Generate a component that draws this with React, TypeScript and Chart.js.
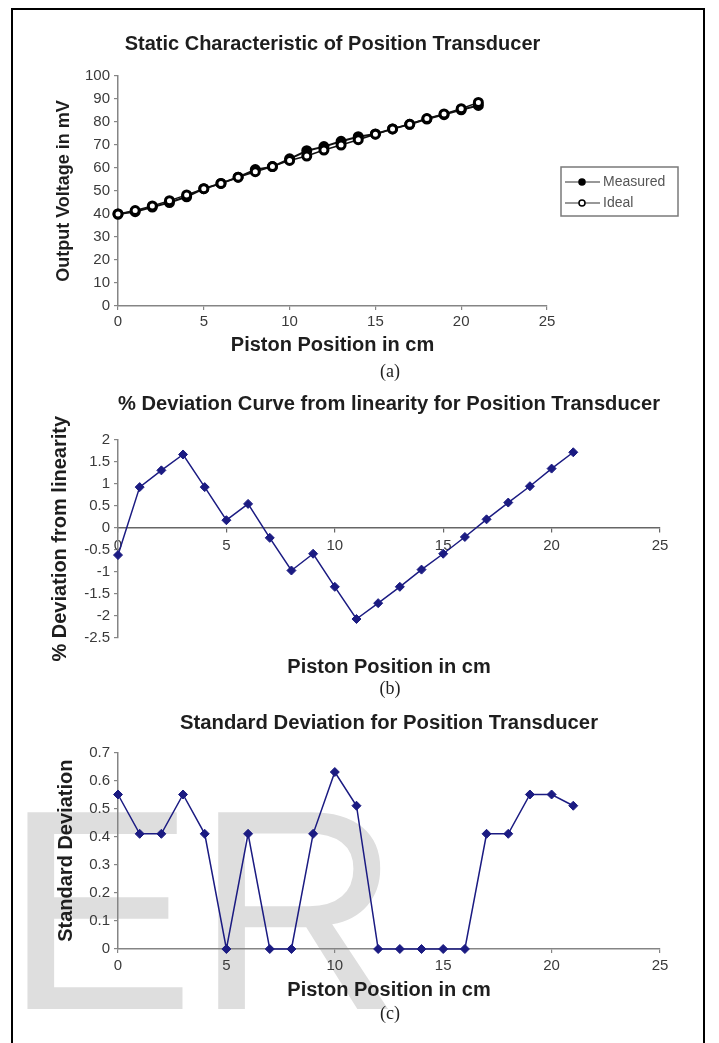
import React, { useEffect, useRef } from "react";
import { Chart, registerables } from "chart.js";

Chart.register(...registerables);

// ---------- data ----------
const positionsCm = [0, 1, 2, 3, 4, 5, 6, 7, 8, 9, 10, 11, 12, 13, 14, 15, 16, 17, 18, 19, 20, 21];
const measuredMv = [40, 41, 43, 45, 47.5, 51, 53.3, 56, 59.3, 60.6, 64, 67.5, 69.3, 71.6, 73.6, 74.8, 77, 79, 81.3, 83.2, 85.3, 87.2];
const idealMv = [40, 41.5, 43.5, 45.8, 48.3, 51, 53.3, 56, 58.4, 60.6, 63.3, 65.2, 67.8, 70, 72.3, 74.7, 77, 79, 81.5, 83.5, 85.8, 88.5];
const deviationPct = [-0.62, 0.92, 1.3, 1.66, 0.92, 0.17, 0.54, -0.23, -0.97, -0.59, -1.34, -2.07, -1.71, -1.34, -0.95, -0.59, -0.21, 0.19, 0.57, 0.94, 1.34, 1.71];
const stdDeviation = [0.55, 0.41, 0.41, 0.55, 0.41, 0, 0.41, 0, 0, 0.41, 0.63, 0.51, 0, 0, 0, 0, 0, 0.41, 0.41, 0.55, 0.55, 0.51];

const seriesLabels = ["Measured", "Ideal"];
const titles = [
  "Static Characteristic of Position Transducer",
  "% Deviation Curve from linearity for Position Transducer",
  "Standard Deviation for Position Transducer",
];
const xAxisTitle = "Piston Position in cm";
const yAxisTitles = ["Output Voltage in mV", "% Deviation from linearity", "Standard Deviation"];
const captions = ["(a)", "(b)", "(c)"];
const xRange = [0, 25, 5];
const yRangeA = [0, 100, 10];
const yRangeB = [-2.5, 2, 0.5];
const yRangeC = [0, 0.7, 0.1];

const toPoints = (ys: number[]) => positionsCm.map((x, i) => ({ x, y: ys[i] }));

const FONT = "'Liberation Sans', Arial, sans-serif";
const AXIS_GRAY = "#858585";
const TICK_COLOR = "#3a3a3a";
const NAVY = "#1b1b82";

Chart.defaults.font.family = FONT;

// legend with line + marker samples, drawn in a box
const boxLegend = {
  id: "boxLegend",
  afterDraw(chart: any, _args: any, opts: any) {
    if (!opts || !opts.display) return;
    const { ctx } = chart;
    ctx.save();
    ctx.strokeStyle = "#7a7a7a";
    ctx.lineWidth = 1.5;
    ctx.strokeRect(opts.x, opts.y, opts.w, opts.h);
    ctx.font = `14px ${FONT}`;
    ctx.textBaseline = "middle";
    ctx.textAlign = "left";
    chart.data.datasets.forEach((ds: any, i: number) => {
      const cy = opts.y + opts.first + i * opts.gap;
      ctx.strokeStyle = "#333";
      ctx.lineWidth = 1.2;
      ctx.beginPath();
      ctx.moveTo(opts.x + 4, cy);
      ctx.lineTo(opts.x + 39, cy);
      ctx.stroke();
      ctx.beginPath();
      ctx.arc(opts.x + 21, cy, 3, 0, Math.PI * 2);
      ctx.fillStyle = ds.pointBackgroundColor;
      ctx.fill();
      ctx.lineWidth = 1.5;
      ctx.strokeStyle = "#000";
      ctx.stroke();
      ctx.fillStyle = "#555";
      ctx.fillText(ds.label, opts.x + 42, cy);
    });
    ctx.restore();
  },
};

const tickFont = { size: 15, family: FONT };
const titleFont = (size: number) => ({ size, weight: "bold" as const, family: FONT });
const plainNumber = (v: any) => String(Math.round(Number(v) * 100) / 100);

function yAxis(range: number[], title: string, titleSize: number, titlePadTop: number) {
  return {
    type: "linear",
    min: range[0],
    max: range[1],
    ticks: { stepSize: range[2], font: tickFont, color: TICK_COLOR, padding: 4, callback: plainNumber },
    grid: { drawOnChartArea: false, drawTicks: true, tickLength: 4, color: AXIS_GRAY, lineWidth: 1.2 },
    border: { display: true, color: AXIS_GRAY, width: 1.5 },
    title: { display: true, text: title, font: titleFont(titleSize), color: "#1e1e1e", padding: { top: titlePadTop, bottom: 0 } },
    afterFit: (s: any) => {
      s.width = 118;
    },
  };
}

function xAxis(height: number, tickPad: number, titlePadBottom: number, showTicks: boolean) {
  return {
    type: "linear",
    min: xRange[0],
    max: xRange[1],
    ticks: { display: showTicks, stepSize: xRange[2], font: tickFont, color: TICK_COLOR, padding: tickPad, callback: plainNumber },
    grid: { display: showTicks, drawOnChartArea: false, drawTicks: true, tickLength: 4, color: AXIS_GRAY, lineWidth: 1.2 },
    border: { display: showTicks, color: AXIS_GRAY, width: 1.5 },
    title: { display: true, text: xAxisTitle, font: titleFont(20), color: "#1e1e1e", padding: { top: 0, bottom: titlePadBottom } },
    afterFit: (s: any) => {
      s.height = height;
    },
  };
}

function chartTitle(text: string, top: number, bottom: number, size: number) {
  return {
    display: true,
    text,
    fullSize: false,
    font: titleFont(size),
    color: "#1e1e1e",
    padding: { top, bottom },
  };
}

function configA(): any {
  return {
    type: "line",
    data: {
      datasets: [
        {
          label: seriesLabels[0],
          data: toPoints(measuredMv),
          borderColor: "#111",
          borderWidth: 2,
          pointRadius: 4.5,
          pointBorderWidth: 2,
          pointBackgroundColor: "#000",
          pointBorderColor: "#000",
          clip: false,
          order: 1,
        },
        {
          label: seriesLabels[1],
          data: toPoints(idealMv),
          borderColor: "#111",
          borderWidth: 1.5,
          pointRadius: 4,
          pointBorderWidth: 3,
          pointBackgroundColor: "#fff",
          pointBorderColor: "#000",
          clip: false,
          order: 0,
        },
      ],
    },
    options: {
      responsive: false,
      animation: false,
      events: [],
      layout: { padding: { left: 0, right: 172, top: 0, bottom: 0 } },
      plugins: {
        legend: { display: false },
        tooltip: { enabled: false },
        title: chartTitle(titles[0], 32, 20, 20),
        boxLegend: { display: true, x: 561, y: 167, w: 117, h: 49, first: 15, gap: 21 },
      },
      scales: {
        x: xAxis(56, 3, 5, true),
        y: yAxis(yRangeA, yAxisTitles[0], 18, 53),
      },
    },
    plugins: [boxLegend],
  };
}

function navyDataset(label: string, ys: number[]) {
  return {
    label,
    data: toPoints(ys),
    borderColor: NAVY,
    borderWidth: 1.5,
    pointStyle: "rectRot",
    pointRadius: 4.5,
    pointBorderWidth: 1,
    pointBackgroundColor: NAVY,
    pointBorderColor: NAVY,
    clip: false,
  };
}

function configB(): any {
  return {
    type: "line",
    data: { datasets: [navyDataset("% Deviation", deviationPct)] },
    options: {
      responsive: false,
      animation: false,
      events: [],
      layout: { padding: { left: 0, right: 59, top: 0, bottom: 0 } },
      plugins: {
        legend: { display: false },
        tooltip: { enabled: false },
        title: chartTitle(titles[1], 12, 23, 20.4),
      },
      scales: {
        x: xAxis(42, 0, 1, false),
        x2: {
          type: "linear",
          position: { y: 0 },
          min: xRange[0],
          max: xRange[1],
          ticks: { stepSize: xRange[2], font: tickFont, color: TICK_COLOR, padding: 5, callback: plainNumber },
          grid: { drawOnChartArea: false, drawTicks: true, tickLength: 4, color: "#666", lineWidth: 1.2 },
          border: { display: true, color: "#666", width: 1.5 },
        },
        y: yAxis(yRangeB, yAxisTitles[1], 20, 48),
      },
    },
  };
}

function configC(): any {
  return {
    type: "line",
    data: { datasets: [navyDataset("Standard Deviation", stdDeviation)] },
    options: {
      responsive: false,
      animation: false,
      events: [],
      layout: { padding: { left: 0, right: 59, top: 0, bottom: 0 } },
      plugins: {
        legend: { display: false },
        tooltip: { enabled: false },
        title: chartTitle(titles[2], 11, 17, 20.3),
      },
      scales: {
        x: xAxis(56, 4, 3, true),
        y: yAxis(yRangeC, yAxisTitles[2], 20, 54),
      },
    },
  };
}

const captionStyle = (top: number): React.CSSProperties => ({
  position: "absolute",
  left: 340,
  width: 100,
  top,
  height: 20,
  lineHeight: "20px",
  textAlign: "center",
  fontFamily: "'Liberation Serif', 'Times New Roman', serif",
  fontSize: 18,
  color: "#222",
  zIndex: 3,
});

export default function App() {
  const refA = useRef<HTMLCanvasElement>(null);
  const refB = useRef<HTMLCanvasElement>(null);
  const refC = useRef<HTMLCanvasElement>(null);

  useEffect(() => {
    const charts = [
      new Chart(refA.current as HTMLCanvasElement, configA()),
      new Chart(refB.current as HTMLCanvasElement, configB()),
      new Chart(refC.current as HTMLCanvasElement, configC()),
    ];
    return () => charts.forEach((c) => c.destroy());
  }, []);

  return (
    <div
      style={{
        position: "absolute",
        left: 0,
        top: 0,
        width: 719,
        height: 1043,
        overflow: "hidden",
        background: "#fff",
      }}
    >
      <div
        style={{
          position: "absolute",
          left: 4,
          top: 767,
          fontFamily: FONT,
          fontSize: 286,
          lineHeight: "286px",
          color: "#dedede",
          whiteSpace: "nowrap",
          zIndex: 0,
        }}
      >
        ER
      </div>
      <div
        style={{
          position: "absolute",
          left: 11,
          top: 8,
          width: 694,
          height: 1100,
          border: "2px solid #000",
          boxSizing: "border-box",
          zIndex: 1,
        }}
      />
      <canvas ref={refA} width={719} height={362} style={{ position: "absolute", left: 0, top: 0, zIndex: 2 }} />
      <canvas ref={refB} width={719} height={300} style={{ position: "absolute", left: 0, top: 380, zIndex: 2 }} />
      <canvas ref={refC} width={719} height={305} style={{ position: "absolute", left: 0, top: 700, zIndex: 2 }} />
      <div style={captionStyle(361)}>{captions[0]}</div>
      <div style={captionStyle(678)}>{captions[1]}</div>
      <div style={captionStyle(1003)}>{captions[2]}</div>
    </div>
  );
}
